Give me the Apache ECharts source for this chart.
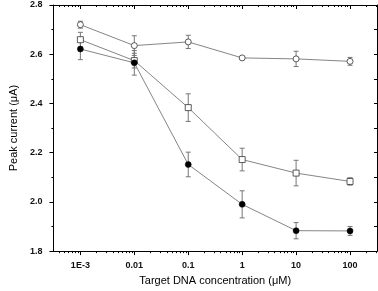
<!DOCTYPE html>
<html><head><meta charset="utf-8">
<script src="https://cdn.jsdelivr.net/npm/echarts@6/dist/echarts.min.js"></script>
<style>html,body{margin:0;padding:0;background:#fff}#c{width:378px;height:291px}</style>
</head><body><div id="c"></div>
<script>
const concentrations = [0.001, 0.01, 0.1, 1, 10, 100];
const tickLabels = ['1E-3', '0.01', '0.1', '1', '10', '100'];
const yTicks = [1.8, 2.0, 2.2, 2.4, 2.6, 2.8];

const openCircle = [2.72, 2.635, 2.65, 2.585, 2.581, 2.571];
const openCircleErr = [0.014, 0.04, 0.027, 0.004, 0.031, 0.016];
const openSquare = [2.659, 2.574, 2.383, 2.172, 2.117, 2.083];
const openSquareErr = [0.03, 0.03, 0.056, 0.046, 0.052, 0.015];
const filledCircle = [2.621, 2.565, 2.152, 1.99, 1.883, 1.882];
const filledCircleErr = [0.043, 0.05, 0.05, 0.055, 0.033, 0.018];

const minorVals = [];
for (let e = -4; e <= 2; e++) for (let k = 2; k <= 9; k++) {
  const v = k * Math.pow(10, e);
  if (v > Math.pow(10, -3.5) && v < Math.pow(10, 2.5)) minorVals.push(v);
}
const xMin = Math.pow(10, -3.5), xMax = Math.pow(10, 2.5);
const font = 'Liberation Sans, Arial, sans-serif';

function pairs(vals) { return concentrations.map((c, i) => [c, vals[i]]); }
function errData(vals, errs) { return concentrations.map((c, i) => [c, vals[i] - errs[i], vals[i] + errs[i]]); }

function errSeries(vals, errs) {
  return {
    type: 'custom', xAxisIndex: 0, yAxisIndex: 0, z: 1,
    data: errData(vals, errs),
    renderItem: function (params, api) {
      const lo = api.coord([api.value(0), api.value(1)]);
      const hi = api.coord([api.value(0), api.value(2)]);
      const w = 2.5;
      const st = { stroke: '#777', lineWidth: 1 };
      return { type: 'group', children: [
        { type: 'line', shape: { x1: lo[0], y1: lo[1], x2: hi[0], y2: hi[1] }, style: st },
        { type: 'line', shape: { x1: lo[0] - w, y1: lo[1], x2: lo[0] + w, y2: lo[1] }, style: st },
        { type: 'line', shape: { x1: hi[0] - w, y1: hi[1], x2: hi[0] + w, y2: hi[1] }, style: st }
      ]};
    }
  };
}

function xAx(pos, vals, len, inside, labels) {
  return {
    type: 'log', logBase: 10, min: xMin, max: xMax, position: pos,
    axisLine: { show: true, lineStyle: { color: '#000', width: 1 } },
    axisTick: { show: true, inside: inside, length: len, customValues: vals, lineStyle: { color: '#000', width: 1 } },
    axisLabel: labels ? {
      show: true, customValues: concentrations, margin: 10, fontSize: 9, fontWeight: 'bold', color: '#111', fontFamily: font,
      formatter: function (v) { const i = concentrations.findIndex(c => Math.abs(Math.log10(c) - Math.log10(v)) < 1e-6); return i >= 0 ? tickLabels[i] : ''; }
    } : { show: false },
    splitLine: { show: false }, minorTick: { show: false }
  };
}

const chart = echarts.init(document.getElementById('c'), null, { renderer: 'canvas' });
chart.setOption({
  animation: false,
  backgroundColor: '#fff',
  grid: { left: 41, right: 1, top: 5, bottom: 38, containLabel: false },
  xAxis: [
    Object.assign(xAx('bottom', concentrations, 4, false, true), {
      name: 'Target DNA concentration (\u03bcM)', nameLocation: 'middle', nameGap: 23,
      nameTextStyle: { fontSize: 11, color: '#000', fontFamily: font, verticalAlign: 'top' }
    }),
    xAx('bottom', minorVals, 2, false, false),
    xAx('top', concentrations, 4, true, false),
    xAx('top', minorVals, 2, true, false)
  ],
  yAxis: [
    {
      type: 'value', min: 1.8, max: 2.8, interval: 0.2, position: 'left',
      name: 'Peak current (\u03bcA)', nameLocation: 'middle', nameGap: 28,
      nameTextStyle: { fontSize: 11, color: '#000', fontFamily: font },
      axisLine: { show: true, lineStyle: { color: '#000', width: 1 } },
      axisTick: { show: true, length: 4, lineStyle: { color: '#000' } },
      minorTick: { show: true, splitNumber: 2, length: 2, lineStyle: { color: '#000' } },
      axisLabel: { fontSize: 9, fontWeight: 'bold', color: '#111', margin: 11, fontFamily: font, customValues: yTicks, formatter: v => v.toFixed(1) },
      splitLine: { show: false }
    },
    {
      type: 'value', min: 1.8, max: 2.8, interval: 0.2, position: 'right',
      axisLine: { show: true, lineStyle: { color: '#000', width: 1 } },
      axisTick: { show: true, inside: true, length: 3, lineStyle: { color: '#000' } },
      minorTick: { show: true, splitNumber: 2, length: 3, lineStyle: { color: '#000' } },
      axisLabel: { show: false }, splitLine: { show: false }
    }
  ],
  series: [
    errSeries(openCircle, openCircleErr),
    errSeries(openSquare, openSquareErr),
    errSeries(filledCircle, filledCircleErr),
    {
      type: 'line', data: pairs(openCircle), symbol: 'circle', symbolSize: 6, z: 3,
      lineStyle: { color: '#666', width: 0.8 },
      itemStyle: { color: '#fff', borderColor: '#333', borderWidth: 0.8 }
    },
    {
      type: 'line', data: pairs(openSquare), symbol: 'rect', symbolSize: 6, z: 3,
      lineStyle: { color: '#666', width: 0.8 },
      itemStyle: { color: '#fff', borderColor: '#333', borderWidth: 0.8 }
    },
    {
      type: 'line', data: pairs(filledCircle), symbol: 'circle', symbolSize: 6, z: 3,
      lineStyle: { color: '#666', width: 0.8 },
      itemStyle: { color: '#000', borderColor: '#000', borderWidth: 0.5 }
    }
  ]
});
</script></body></html>
